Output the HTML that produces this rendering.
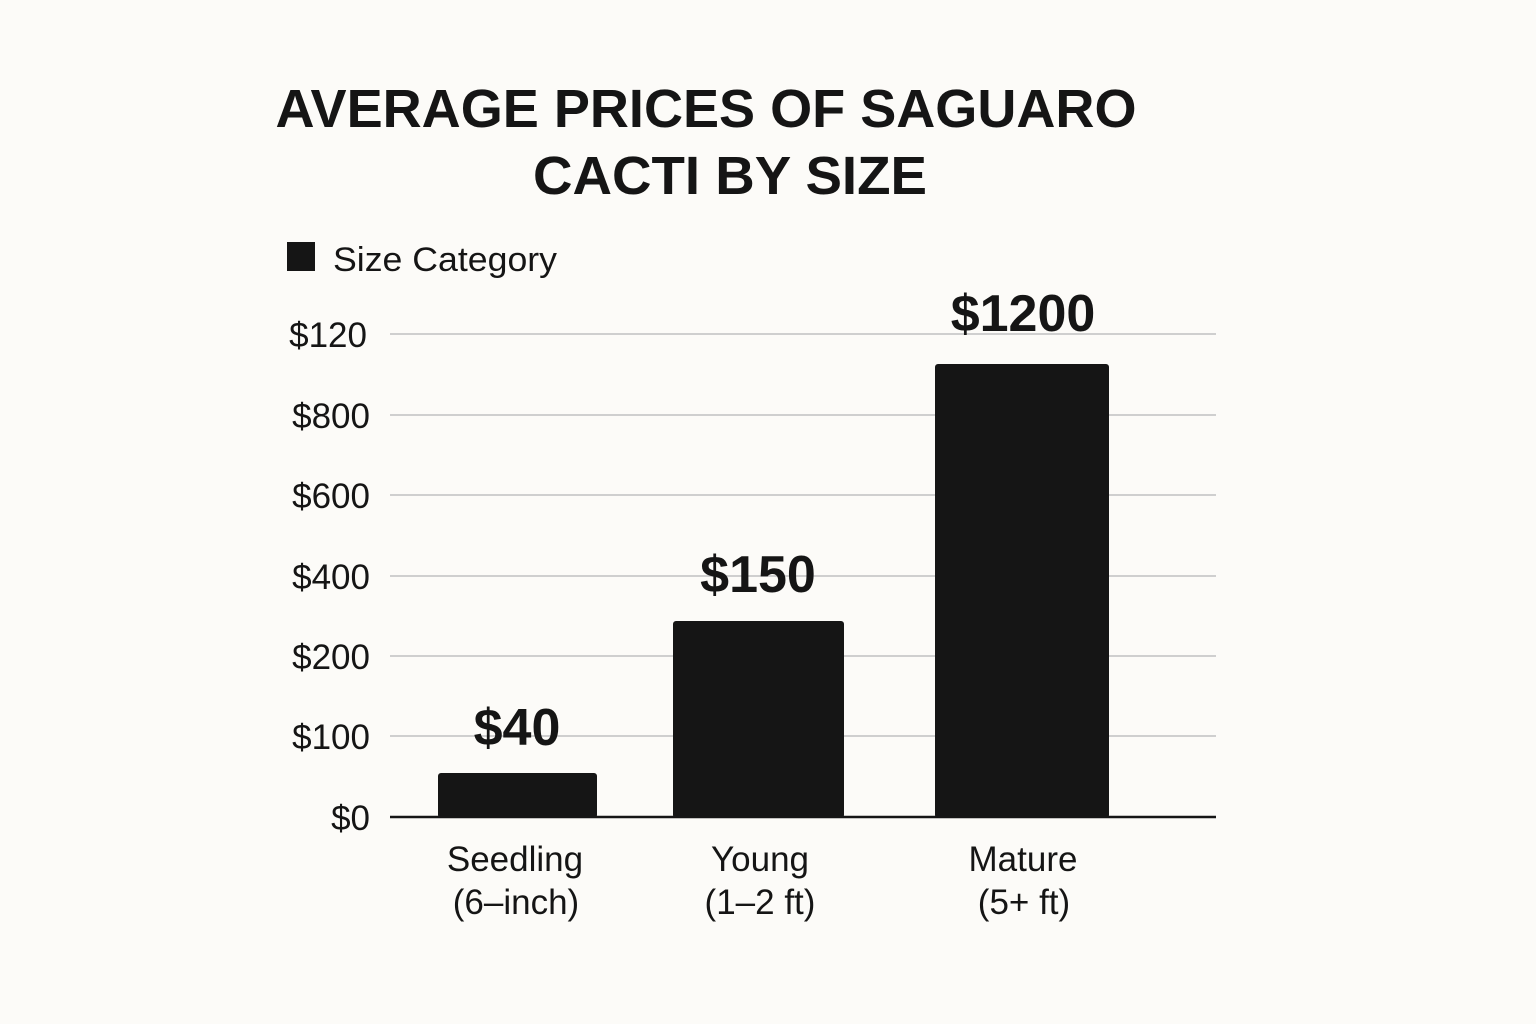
<!DOCTYPE html>
<html><head><meta charset="utf-8"><style>
html,body{margin:0;padding:0;background:#fcfbf8;}
svg{display:block}
text{font-family:"Liberation Sans",sans-serif;fill:#151515}
</style></head><body>
<svg width="1536" height="1024" viewBox="0 0 1536 1024">
<rect width="1536" height="1024" fill="#fcfbf8"/>
<text x="706" y="127" font-size="54" font-weight="bold" text-anchor="middle" textLength="861" lengthAdjust="spacingAndGlyphs">AVERAGE PRICES OF SAGUARO</text>
<text x="730" y="194" font-size="54" font-weight="bold" text-anchor="middle" textLength="394" lengthAdjust="spacingAndGlyphs">CACTI BY SIZE</text>
<rect x="287" y="242" width="28" height="29" fill="#151515"/>
<text x="333" y="271" font-size="34" textLength="224" lengthAdjust="spacingAndGlyphs">Size Category</text>
<g stroke="#cfcfcf" stroke-width="2">
<line x1="390" y1="334" x2="1216" y2="334"/>
<line x1="390" y1="415" x2="1216" y2="415"/>
<line x1="390" y1="495" x2="1216" y2="495"/>
<line x1="390" y1="576" x2="1216" y2="576"/>
<line x1="390" y1="656" x2="1216" y2="656"/>
<line x1="390" y1="736" x2="1216" y2="736"/>
</g>
<line x1="390" y1="817" x2="1216" y2="817" stroke="#151515" stroke-width="2.5"/>
<g font-size="35" text-anchor="end">
<text x="367" y="347">$120</text>
<text x="370" y="428">$800</text>
<text x="370" y="508">$600</text>
<text x="370" y="589">$400</text>
<text x="370" y="669">$200</text>
<text x="370" y="749">$100</text>
<text x="370" y="830">$0</text>
</g>
<g fill="#151515">
<rect x="438" y="773" width="159" height="45" rx="3"/>
<rect x="673" y="621" width="171" height="197" rx="3"/>
<rect x="935" y="364" width="174" height="454" rx="3"/>
</g>
<g font-size="52" font-weight="bold" text-anchor="middle">
<text x="517" y="745">$40</text>
<text x="758" y="592">$150</text>
<text x="1023" y="331">$1200</text>
</g>
<g font-size="35" text-anchor="middle">
<text x="515" y="871">Seedling</text>
<text x="516" y="914">(6–inch)</text>
<text x="760" y="871">Young</text>
<text x="760" y="914">(1–2 ft)</text>
<text x="1023" y="871">Mature</text>
<text x="1024" y="914">(5+ ft)</text>
</g>
</svg>
</body></html>
